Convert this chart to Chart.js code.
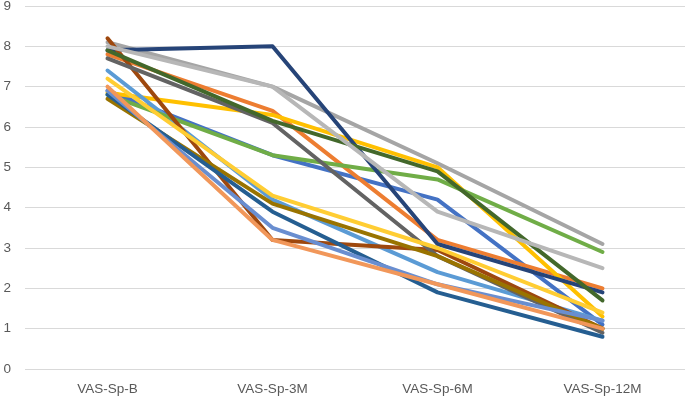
<!DOCTYPE html>
<html>
<head>
<meta charset="utf-8">
<script src="https://cdn.jsdelivr.net/npm/chart.js@4/dist/chart.umd.min.js"></script>
<style>
  html, body { margin: 0; padding: 0; background: #ffffff; }
  #wrap { width: 685px; height: 401px; position: relative; }
</style>
</head>
<body>
<div id="wrap"><canvas id="chart"></canvas></div>
<script>
// Categories on the x axis
const categories = ['VAS-Sp-B', 'VAS-Sp-3M', 'VAS-Sp-6M', 'VAS-Sp-12M'];

// Y axis ticks
const yTicks = [0, 1, 2, 3, 4, 5, 6, 7, 8, 9];

// One line per patient (B, 3M, 6M, 12M)
const s1 = [6.9, 5.3, 4.2, 1.1];
const s2 = [7.8, 6.4, 3.2, 2.0];
const s3 = [8.1, 7.0, 5.1, 3.1];
const s4 = [6.85, 6.3, 5.0, 1.3];
const s5 = [7.4, 4.2, 2.4, 1.2];
const s6 = [6.8, 5.3, 4.7, 2.9];
const s7 = [7.9, 8.0, 3.1, 1.9];
const s8 = [8.2, 3.2, 2.95, 1.0];
const s9 = [7.7, 6.1, 2.8, 0.9];
const s10 = [6.7, 4.1, 2.8, 1.0];
const s11 = [6.8, 3.9, 1.9, 0.8];
const s12 = [7.9, 6.15, 4.9, 1.7];
const s13 = [6.9, 3.5, 2.1, 1.2];
const s14 = [7.0, 3.2, 2.1, 1.0];
const s15 = [8.0, 7.0, 3.9, 2.5];
const s16 = [7.2, 4.3, 3.0, 1.4];

const seriesList = [s1, s2, s3, s4, s5, s6, s7, s8, s9, s10, s11, s12, s13, s14, s15, s16];

// Office palette, in series order
const colors = [
    '#4472C4', '#ED7D31', '#A5A5A5', '#FFC000', '#5B9BD5', '#70AD47',
    '#264478', '#9E480E', '#636363', '#997300', '#255E91', '#43682B',
    '#698ED0', '#F1975A', '#B7B7B7', '#FFCD33'
];

const textColor = '#595959';
const gridColor = '#d9d9d9';

// Later series drawn on top, like the spreadsheet
const datasets = seriesList.map((values, i) => ({
    label: 'Series ' + (i + 1),
    data: values,
    borderColor: colors[i],
    backgroundColor: colors[i],
    borderWidth: 4,
    pointRadius: 0,
    pointHoverRadius: 0,
    tension: 0,
    fill: false,
    borderJoinStyle: 'round',
    borderCapStyle: 'round',
    order: seriesList.length - i
}));

new Chart(document.getElementById('chart'), {
    type: 'line',
    data: { labels: categories, datasets: datasets },
    options: {
        responsive: true,
        maintainAspectRatio: false,
        animation: false,
        layout: { padding: { top: 6, right: -2, bottom: 0, left: 0 } },
        plugins: {
            legend: { display: false },
            tooltip: { enabled: false }
        },
        scales: {
            x: {
                offset: true,
                grid: { display: false, drawTicks: false },
                border: { display: false },
                ticks: {
                    color: textColor,
                    padding: 12,
                    font: { family: 'Liberation Sans', size: 13.5 }
                },
                afterFit: (axis) => { axis.height = 32; }
            },
            y: {
                min: yTicks[0],
                max: yTicks[yTicks.length - 1],
                afterBuildTicks: (axis) => { axis.ticks = yTicks.map(v => ({ value: v })); },
                grid: { color: gridColor, lineWidth: 1, drawTicks: false },
                border: { display: false },
                ticks: {
                    color: textColor,
                    padding: 14,
                    font: { family: 'Liberation Sans', size: 13.5 }
                },
                afterFit: (axis) => {
                    axis.width = 25;
                    axis.paddingTop = 0;
                    axis.paddingBottom = 0;
                }
            }
        }
    }
});
</script>
</body>
</html>
